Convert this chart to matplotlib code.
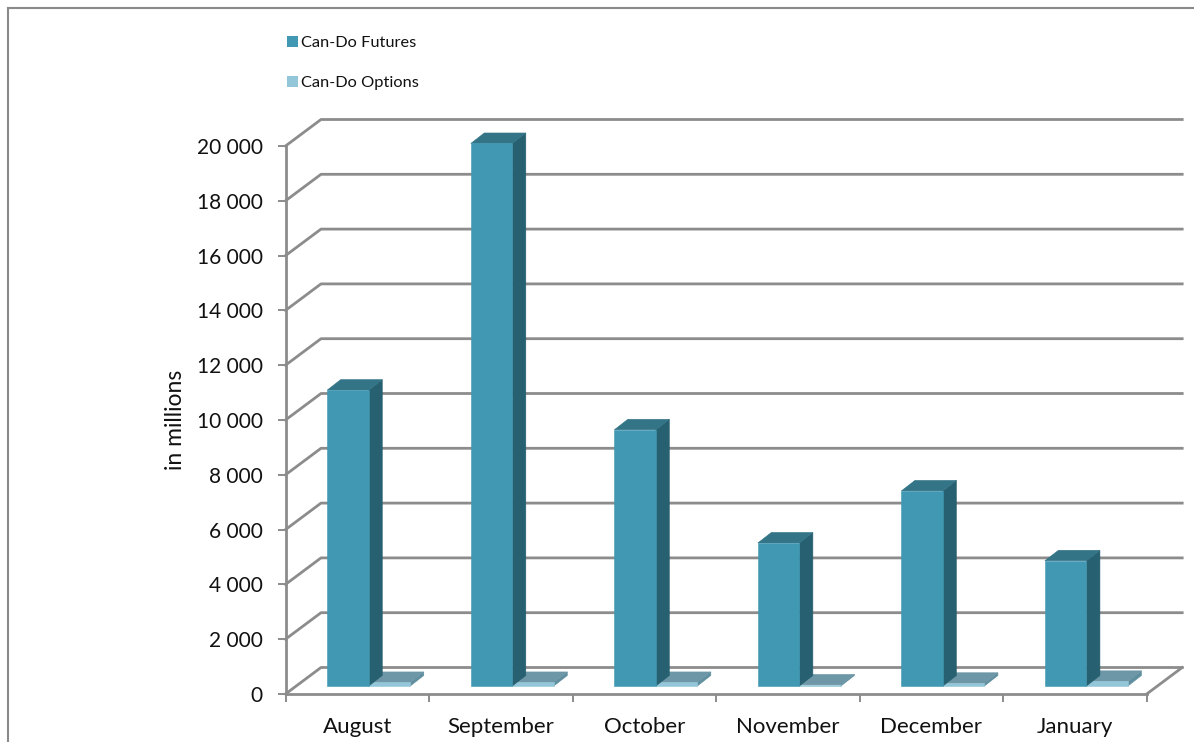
import matplotlib
matplotlib.use("Agg")
import matplotlib.pyplot as plt
from matplotlib.lines import Line2D
from matplotlib.patches import Patch, Polygon

months = ["August", "September", "October", "November", "December", "January"]
futures = [10800, 19800, 9350, 5220, 7120, 4570]
options = [130, 130, 130, 40, 100, 170]
yticks = list(range(0, 20001, 2000))
ylabels = ["0"] + [f"{v // 1000} 000" for v in yticks[1:]]

W, H = 1194, 742
L, R, T, B = 285.5, 1146.7, 146.0, 694.0
plt.rcParams["font.family"] = ["Lato", "DejaVu Sans"]

fig = plt.figure(figsize=(W / 100, H / 100), dpi=100)
ax = fig.add_axes([L / W, 1 - B / H, (R - L) / W, (B - T) / H])
ax.set_xlim(0, 6)
ax.set_ylim(0, 20000)
ax.patch.set_alpha(0)

px = 6 / (R - L)          # category units per pixel
py = 20000 / (B - T)      # value units per pixel
GRID = "#8c8c8c"

# chart frame
fig.add_artist(Line2D([7.5 / W, 7.5 / W], [0, 1 - 8 / H], color="#8a8a8a", lw=1.5))
fig.add_artist(Line2D([7.5 / W, 1], [1 - 8 / H, 1 - 8 / H], color="#8a8a8a", lw=1.5))

# 3-D wall: back gridlines and side diagonals
dx, dy = 35.5 * px, 26.5 * py
for v in yticks:
    ax.plot([0, dx, 6 + dx], [v, v + dy, v + dy], color=GRID, lw=2.0, clip_on=False, zorder=1,
            solid_joinstyle="round")
ax.plot([6, 6 + dx], [0, dy], color=GRID, lw=2.0, clip_on=False, zorder=1)

for s in ("top", "right"):
    ax.spines[s].set_visible(False)
for s in ("left", "bottom"):
    ax.spines[s].set_color(GRID)
    ax.spines[s].set_linewidth(2.0)
    ax.spines[s].set_zorder(1.5)

ax.set_yticks(yticks, ylabels, fontsize=15, color="#111111")
ax.set_xticks(range(7), [""] * 7)
ax.set_xticks([i + 0.5 for i in range(6)], months, minor=True, fontsize=16, color="#111111")
ax.tick_params(axis="y", length=5.5, width=1.4, color=GRID, pad=11)
ax.tick_params(axis="x", which="major", length=5.5, width=1.4, color=GRID)
ax.tick_params(axis="x", which="minor", length=0, pad=16.5)
ax.set_ylabel("in millions", fontsize=16.5, color="#111111")
ax.yaxis.set_label_coords((186 - L) / (R - L), (B - 420) / (B - T))

# 3-D columns
base = (B - 686) * py
ddx, ddy = 13.5 * px, 10.5 * py
bw = 41.5 * px
start = 0.291


def column(x, v, front, side, top, z):
    y0, y1 = base, base + v
    kw = dict(lw=0.4, clip_on=False, zorder=z)
    ax.add_patch(Polygon([(x + bw, y0), (x + bw + ddx, y0 + ddy), (x + bw + ddx, y1 + ddy), (x + bw, y1)],
                         fc=side, ec=side, **kw))
    ax.add_patch(Polygon([(x, y1), (x + ddx, y1 + ddy), (x + bw + ddx, y1 + ddy), (x + bw, y1)],
                         fc=top, ec=top, **kw))
    ax.add_patch(Polygon([(x, y0), (x + bw, y0), (x + bw, y1), (x, y1)],
                         fc=front, ec=front, lw=0.4, clip_on=False, zorder=z + 0.1))


for i, (f, o) in enumerate(zip(futures, options)):
    x = i + start
    column(x + bw, o, "#93c6d8", "#5f8e9f", "#6d97a7", 2 + i)
    column(x, f, "#4198b3", "#276070", "#337487", 2.5 + i)

handles = [Patch(fc="#4198b3", ec="none"), Patch(fc="#93c6d8", ec="none")]
leg = fig.legend(handles, ["Can-Do Futures", "Can-Do Options"], loc="upper left",
                 bbox_to_anchor=(287 / W, 1 - 36 / H), frameon=False, fontsize=11.8,
                 handlelength=0.67, handleheight=0.67, handletextpad=0.18,
                 labelspacing=1.56, borderpad=0, borderaxespad=0)
for t in leg.get_texts():
    t.set_color("#111111")

fig.savefig("out.png", dpi=100, facecolor="white")
